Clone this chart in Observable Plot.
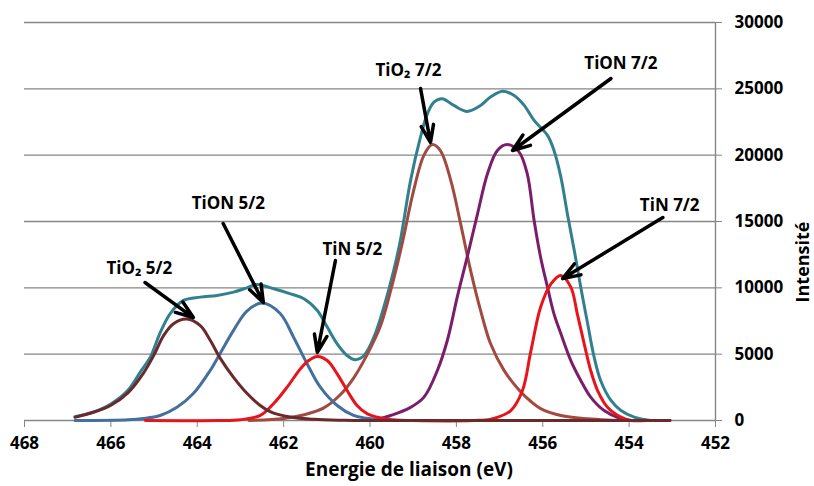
<!DOCTYPE html>
<html>
<head>
<meta charset="utf-8">
<script src="https://cdn.jsdelivr.net/npm/d3@7"></script>
<script src="https://cdn.jsdelivr.net/npm/@observablehq/plot@0.6"></script>
<style>
  html, body { margin: 0; padding: 0; background: #fff; }
  #chart { width: 814px; height: 486px; }
</style>
</head>
<body>
<div id="chart"></div>
<script>
// ---- Data (binding energy eV, intensity) ----
const envelope = [[466.83,280],[466.4,650],[466.0,1250],[465.6,2300],[465.3,3750],[465.09,4750],[464.86,6600],[464.63,8040],[464.32,9050],[463.93,9300],[463.54,9430],[463.16,9680],[462.85,10000],[462.62,10250],[462.23,9930],[461.84,9550],[461.53,9180],[461.22,8290],[460.99,7040],[460.76,5780],[460.53,4900],[460.34,4580],[460.14,4900],[459.91,6280],[459.68,8540],[459.45,11310],[459.29,13700],[459.06,18100],[458.83,21370],[458.67,23130],[458.52,24000],[458.33,24260],[458.06,23750],[457.75,23300],[457.44,23750],[457.21,24380],[456.93,24810],[456.67,24510],[456.43,23750],[456.2,22620],[455.89,21490],[455.74,20360],[455.58,18350],[455.43,15580],[455.27,12820],[455.12,10050],[454.96,7290],[454.81,4770],[454.66,3020],[454.42,1510],[454.19,750],[453.88,250],[453.65,75],[453.5,0]];

const tio2_52 = [[466.83,250],[466.4,620],[466.0,1150],[465.6,2100],[465.25,3550],[465.0,4950],[464.78,6400],[464.55,7300],[464.24,7650],[463.93,7150],[463.7,6050],[463.47,4700],[463.16,3250],[462.85,2050],[462.55,1150],[462.3,650],[461.85,260],[461.3,90],[460.6,20],[460.0,0],[453.05,0]];

const tion_52 = [[466.83,0],[465.6,60],[465.25,150],[464.86,380],[464.47,1000],[464.09,2030],[463.7,3770],[463.47,5050],[463.16,6790],[462.85,8250],[462.5,8850],[462.08,8070],[461.77,6280],[461.46,4300],[461.15,2510],[460.76,1130],[460.38,380],[460.07,170],[459.6,30],[459.2,0]];

const tin = [[465.2,0],[463.5,0],[463.0,60],[462.54,380],[462.23,1280],[461.92,2510],[461.61,3900],[461.42,4520],[461.22,4830],[460.99,4520],[460.76,3520],[460.53,2260],[460.3,1130],[460.06,500],[459.83,250],[459.5,60],[459.0,0],[457.6,0],[457.2,100],[456.74,750],[456.47,2260],[456.28,5150],[456.05,8540],[455.81,10300],[455.58,10930],[455.35,10050],[455.2,8040],[455.04,5780],[454.89,3770],[454.73,2260],[454.5,1000],[454.19,250],[453.96,0],[453.6,0]];

const tio2_72 = [[462.8,0],[462.0,150],[461.5,450],[461.07,950],[460.7,1900],[460.38,3200],[460.07,4950],[459.76,7100],[459.52,9800],[459.25,13400],[459.0,17200],[458.75,20000],[458.56,20800],[458.37,20350],[458.13,18100],[457.9,14800],[457.67,11300],[457.44,8300],[457.21,5800],[456.9,3800],[456.55,2300],[456.28,1450],[456.05,900],[455.58,380],[454.96,130],[454.5,40],[454.0,0]];

const tion_72 = [[460.1,0],[459.8,120],[459.52,380],[459.08,950],[458.75,1760],[458.44,3770],[458.21,6030],[457.98,9300],[457.75,12310],[457.51,15580],[457.28,18600],[457.05,20360],[456.82,20800],[456.55,20250],[456.36,18600],[456.2,15080],[456.05,12310],[455.89,10050],[455.74,8040],[455.58,6540],[455.35,4520],[455.12,3020],[454.89,1760],[454.58,750],[454.19,130],[453.96,0]];

// Axis ticks
const xTicks = [468, 466, 464, 462, 460, 458, 456, 454, 452];
const yTicks = [0, 5000, 10000, 15000, 20000, 25000, 30000];

// Annotations (in data coordinates)
const annoText  = ["TiO\u2082 5/2", "TiON 5/2", "TiN 5/2", "TiO\u2082 7/2", "TiON 7/2", "TiN 7/2"];
const annoEv    = [465.34, 463.28, 460.41, 459.11, 454.19, 453.06];
const annoInt   = [11460, 16360, 12890, 26380, 26910, 16210];
const arrFromEv = [465.21, 463.40, 460.80, 458.83, 454.42, 453.22];
const arrFromI  = [10400, 14850, 12060, 25030, 25780, 15300];
const arrToEv   = [464.09, 462.47, 461.22, 458.60, 456.70, 455.54];
const arrToI    = [7760, 8890, 5130, 20960, 20350, 10700];

// ---- Build ----
const pts = a => a.map(([e, v]) => ({e, v}));
const annos = annoText.map((t, i) => ({t, x: annoEv[i], y: annoInt[i], x1: arrFromEv[i], y1: arrFromI[i], x2: arrToEv[i], y2: arrToI[i]}));

const lineOpts = (color) => ({x: "e", y: "v", stroke: color, strokeWidth: 3, curve: "catmull-rom"});

const chart = Plot.plot({
  width: 814,
  height: 486,
  marginTop: 22,
  marginBottom: 66,
  marginLeft: 24,
  marginRight: 99,
  style: {fontFamily: "'Open Sans', sans-serif", background: "#fff", overflow: "visible"},
  x: {domain: [468, 452], axis: null},
  y: {domain: [0, 30000], axis: null},
  marks: [
    Plot.ruleY(yTicks, {stroke: "#868686", strokeWidth: 1.4}),
    Plot.ruleX([452], {stroke: "#868686", strokeWidth: 1.4}),
    Plot.axisX({ticks: xTicks, tickSize: 7, tickPadding: 9, stroke: "#868686", fill: "#000", fontSize: 17, fontWeight: "bold", tickFormat: d => String(d), label: null}),
    Plot.axisY({anchor: "right", ticks: yTicks, tickSize: 6, tickPadding: 13, stroke: "#868686", fill: "#000", fontSize: 17, fontWeight: "bold", tickFormat: d => String(d), label: null}),
    Plot.line(pts(envelope), lineOpts("#31808F")),
    Plot.line(pts(tio2_72), lineOpts("#A24A40")),
    Plot.line(pts(tion_72), lineOpts("#7A1E6C")),
    Plot.line(pts(tion_52), lineOpts("#44709E")),
    Plot.line(pts(tin), lineOpts("#E8141B")),
    Plot.line(pts(tio2_52), lineOpts("#6A2A2C")),
    Plot.arrow(annos, {x1: "x1", y1: "y1", x2: "x2", y2: "y2", stroke: "#000", strokeWidth: 3.5, headLength: 8, headAngle: 40}),
    Plot.text(annos, {x: "x", y: "y", text: "t", fontSize: 17, fontWeight: "bold", fill: "#000"}),
    Plot.text(["Energie de liaison (eV)"], {frameAnchor: "bottom", dx: 39, dy: 55, text: d => d, fontSize: 19, fontWeight: "bold", fill: "#000"}),
    Plot.text(["Intensit\u00e9"], {frameAnchor: "right", dx: 88, text: d => d, rotate: -90, fontSize: 18, fontWeight: "bold", fill: "#000"})
  ]
});
document.getElementById("chart").appendChild(chart);
</script>
</body>
</html>
